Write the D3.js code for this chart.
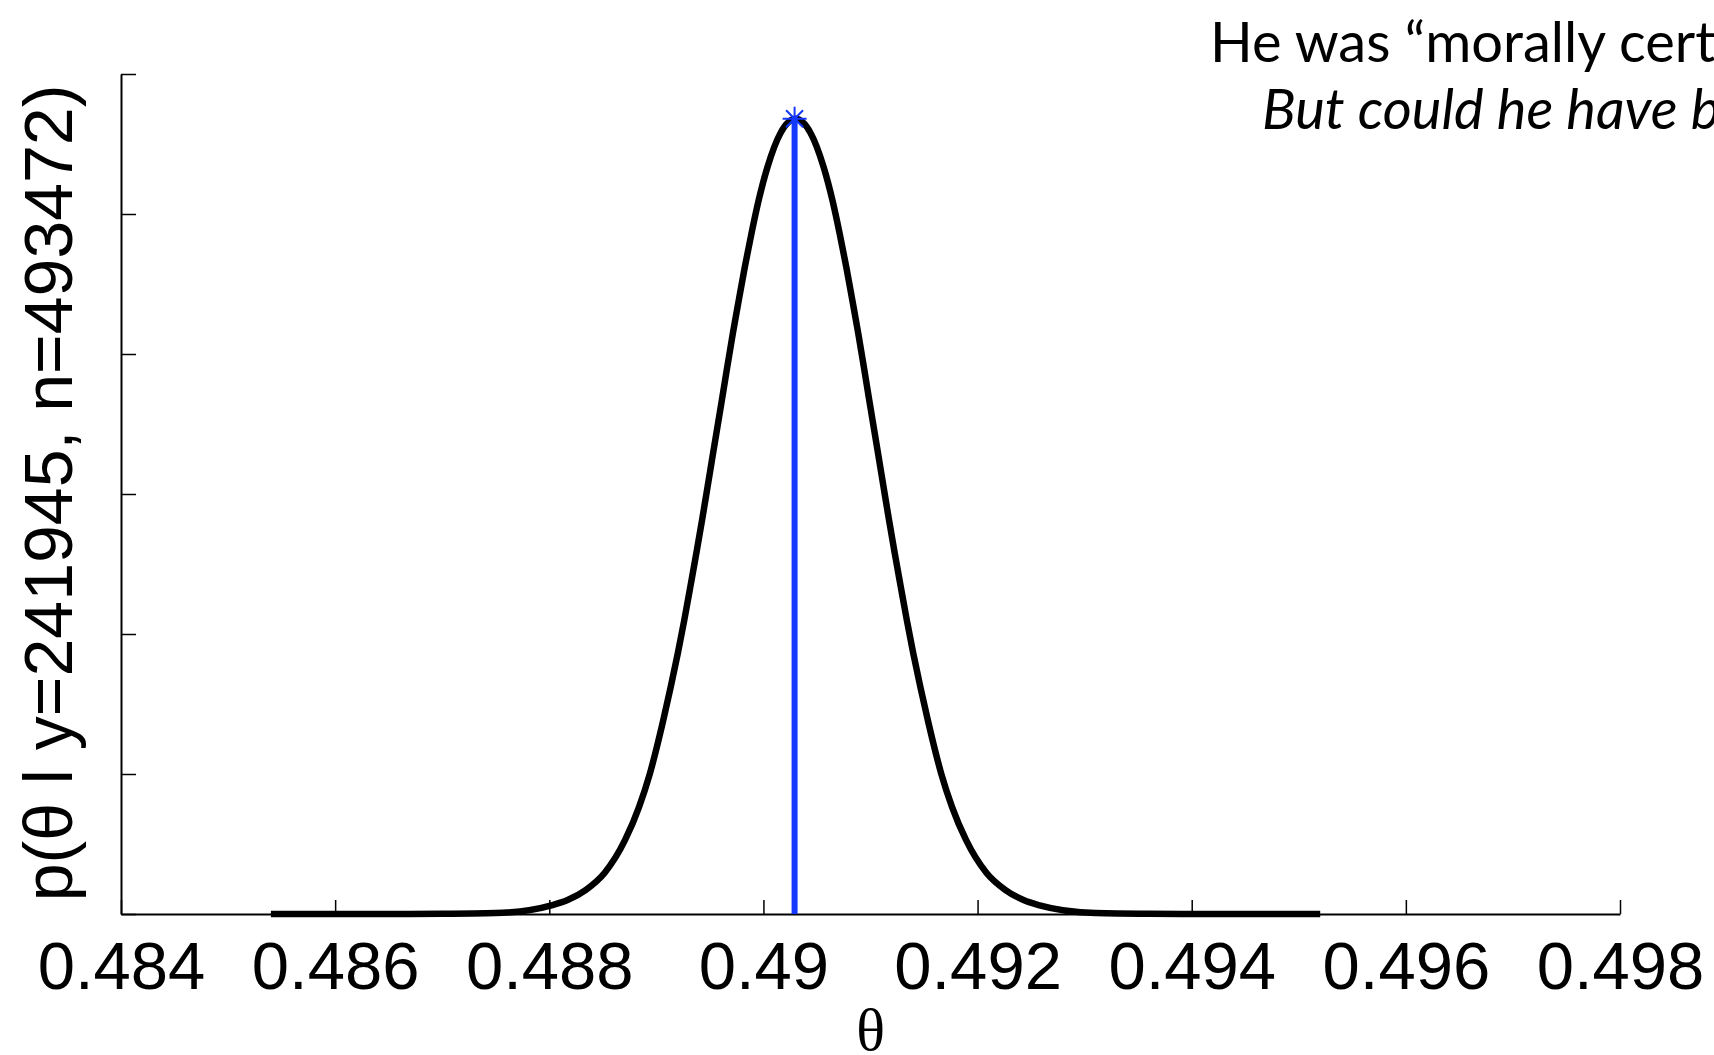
<!DOCTYPE html>
<html>
<head>
<meta charset="utf-8">
<script src="https://cdn.jsdelivr.net/npm/d3@7"></script>
<style>
  html, body { margin: 0; padding: 0; background: #fff; overflow: hidden; }
  svg { display: block; }
</style>
</head>
<body>
<svg id="chart" width="1714" height="1055"></svg>
<script>
// Posterior density of theta after y girls out of n births
const theta = [
  0.48540, 0.48620, 0.48700, 0.487498, 0.488030, 0.488171, 0.488339, 0.488516,
  0.488708, 0.488838, 0.488941, 0.489065, 0.489134, 0.489201, 0.489261,
  0.489317, 0.489374, 0.489427, 0.489478, 0.489530, 0.489612, 0.489662,
  0.489715, 0.489770, 0.489826, 0.489889, 0.489956, 0.490038, 0.490160,
  0.490300,
  0.490440, 0.490562, 0.490644, 0.490711, 0.490774, 0.490830, 0.490885,
  0.490938, 0.490988, 0.491070, 0.491122, 0.491173, 0.491226, 0.491283,
  0.491339, 0.491399, 0.491466, 0.491535, 0.491659, 0.491762, 0.491892,
  0.492084, 0.492261, 0.492429, 0.492570, 0.493102, 0.49360, 0.49440, 0.49520
];
const density = [
  0, 0, 0.2, 0.7, 6.4, 10, 17.1, 29.3,
  52.9, 76.4, 100.7, 138.6, 162.1, 186.4, 210,
  233.6, 257.9, 281.4, 305, 329.3, 367.1, 390.7,
  415, 438.6, 462.1, 486.4, 510, 533.6, 557.9,
  568,
  557.9, 533.6, 510, 486.4, 462.1, 438.6, 415,
  390.7, 367.1, 329.3, 305, 281.4, 257.9, 233.6,
  210, 186.4, 162.1, 138.6, 100.7, 76.4, 52.9,
  29.3, 17.1, 10, 6.4, 0.7, 0.2, 0, 0
];

// Posterior mode (y/n) and its density
const modeTheta = [0.490291];
const modeDensity = [568];

const xTickValues = [0.484, 0.486, 0.488, 0.490, 0.492, 0.494, 0.496, 0.498];
const xTickLabels = ["0.484", "0.486", "0.488", "0.49", "0.492", "0.494", "0.496", "0.498"];
const yTickValues = [0, 100, 200, 300, 400, 500, 600];

const titleLines = ["He was \u201cmorally certain\u201d that \u03b8 < 0.5.", "But could he have been wrong?"];
const yLabel = "p(\u03b8 l y=241945, n=493472)";
const xLabel = "\u03b8";

const svg = d3.select("#chart");

const x = d3.scaleLinear().domain([0.484, 0.498]).range([121, 1620]);
const y = d3.scaleLinear().domain([0, 600]).range([914, 74]);

// Axes (ticks point inward)
const xAxis = d3.axisBottom(x)
  .tickValues(xTickValues)
  .tickFormat((d, i) => xTickLabels[i])
  .tickSizeInner(-14)
  .tickSizeOuter(0)
  .tickPadding(27);

const yAxis = d3.axisLeft(y)
  .tickValues(yTickValues)
  .tickFormat("")
  .tickSizeInner(-15)
  .tickSizeOuter(0);

const gx = svg.append("g").attr("transform", "translate(0,914)").call(xAxis);
const gy = svg.append("g").attr("transform", "translate(121,0)").call(yAxis);

[gx, gy].forEach(g => {
  g.select(".domain").attr("stroke", "#000").attr("stroke-width", 2);
  g.selectAll(".tick line").attr("stroke", "#000").attr("stroke-width", 1.5);
});
gx.selectAll(".tick text")
  .attr("fill", "#000")
  .style("font-family", "'Liberation Sans', Arial, sans-serif")
  .style("font-size", "67px");

// Density curve
const pts = theta.map((t, i) => [t, density[i]]);
const line = d3.line()
  .x(d => x(d[0]))
  .y(d => y(d[1]))
  .curve(d3.curveMonotoneX);

svg.append("path")
  .datum(pts)
  .attr("d", line)
  .attr("fill", "none")
  .attr("stroke", "#000")
  .attr("stroke-width", 6.5)
  .attr("stroke-linejoin", "round");

// Vertical line at the mode, topped with an asterisk marker
const blue = "#1438ff";
svg.append("line")
  .attr("x1", x(modeTheta[0])).attr("x2", x(modeTheta[0]))
  .attr("y1", y(0)).attr("y2", y(modeDensity[0]))
  .attr("stroke", blue)
  .attr("stroke-width", 6);

const cx = x(modeTheta[0]), cy = y(modeDensity[0]), r = 12;
const star = d3.path();
[0, 45, 90, 135].forEach(a => {
  const rad = a * Math.PI / 180;
  star.moveTo(cx - r * Math.cos(rad), cy - r * Math.sin(rad));
  star.lineTo(cx + r * Math.cos(rad), cy + r * Math.sin(rad));
});
svg.append("path")
  .attr("d", star.toString())
  .attr("stroke", blue)
  .attr("stroke-width", 2)
  .attr("fill", "none");

// Axis labels
svg.append("text")
  .attr("transform", "translate(72,493) rotate(-90)")
  .attr("text-anchor", "middle")
  .style("font-family", "'Liberation Sans', Arial, sans-serif")
  .style("font-size", "68px")
  .attr("fill", "#000")
  .text(yLabel);

svg.append("text")
  .attr("x", (x.range()[0] + x.range()[1]) / 2)
  .attr("y", 1050)
  .attr("text-anchor", "middle")
  .style("font-family", "'Liberation Serif', 'Times New Roman', serif")
  .style("font-size", "60px")
  .attr("fill", "#000")
  .text(xLabel);

// Caption in the top right
svg.append("text")
  .attr("x", 1210).attr("y", 62)
  .style("font-family", "Lato, sans-serif")
  .style("font-size", "56px")
  .attr("fill", "#000")
  .text(titleLines[0]);

svg.append("text")
  .attr("x", 1262).attr("y", 129)
  .style("font-family", "Lato, sans-serif")
  .style("font-size", "56px")
  .style("font-style", "italic")
  .attr("fill", "#000")
  .text(titleLines[1]);
</script>
</body>
</html>
